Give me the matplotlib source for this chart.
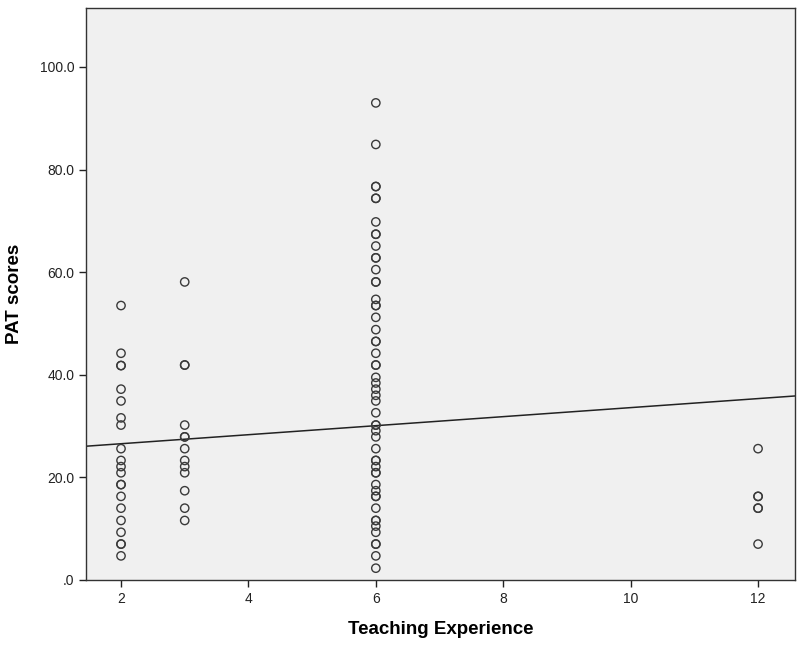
import matplotlib.pyplot as plt
import numpy as np

plt.rcParams['font.family'] = ['Liberation Sans', 'DejaVu Sans']

# PAT scores per teaching experience group
exp_2 = [53.5, 44.2, 41.8, 41.8, 37.2, 34.9, 31.6, 30.2, 25.6, 23.3, 22.1, 20.9,
         18.6, 18.6, 16.3, 14.0, 11.6, 9.3, 7.0, 7.0, 4.7]
exp_3 = [58.1, 41.9, 41.9, 30.2, 27.9, 27.9, 25.6, 23.3, 22.1, 20.9, 17.4, 14.0, 11.6]
exp_6 = [93.0, 84.9, 76.7, 76.7, 74.4, 74.4, 69.8, 67.4, 67.4, 65.1, 62.8, 62.8,
         60.5, 58.1, 58.1, 54.7, 53.5, 53.5, 51.2, 48.8, 46.5, 46.5, 44.2, 41.9,
         41.9, 39.5, 38.4, 37.2, 36.0, 34.9, 32.6, 30.2, 30.2, 29.1, 27.9, 25.6,
         23.3, 23.3, 22.1, 20.9, 20.9, 18.6, 17.4, 16.3, 16.3, 14.0, 11.6, 11.6,
         10.5, 9.3, 7.0, 7.0, 4.7, 2.3]
exp_12 = [25.6, 16.3, 16.3, 14.0, 14.0, 7.0]

# fit line
fit_intercept = 24.8
fit_slope = 0.88

x = np.array([2]*len(exp_2) + [3]*len(exp_3) + [6]*len(exp_6) + [12]*len(exp_12))
y = np.array(exp_2 + exp_3 + exp_6 + exp_12)

fig = plt.figure(figsize=(7.99, 6.45), dpi=100)
ax = fig.add_axes([0.1076, 0.1008, 0.8874, 0.8868])
ax.set_facecolor('#f0f0f0')

ax.scatter(x, y, s=36, facecolors='none', edgecolors='#3a3a3a', linewidths=1.0, zorder=3)

xl = np.array([1.45, 12.58])
ax.plot(xl, fit_intercept + fit_slope * xl, color='#222222', lw=1.1, zorder=2)

ax.set_xlim(1.45, 12.58)
ax.set_ylim(0, 111.5)
ax.set_xticks([2, 4, 6, 8, 10, 12])
ax.set_yticks([0, 20, 40, 60, 80, 100])
ax.set_yticklabels(['.0', '20.0', '40.0', '60.0', '80.0', '100.0'])
ax.tick_params(labelsize=10, colors='#222222', length=5, width=1)

for s in ax.spines.values():
    s.set_color('#333333')
    s.set_linewidth(1)

ax.set_xlabel('Teaching Experience', fontsize=13.5, fontweight='bold', labelpad=11)
ax.set_ylabel('PAT scores', fontsize=13.5, fontweight='bold', labelpad=12)

plt.savefig('out.png', dpi=100, facecolor='white')
